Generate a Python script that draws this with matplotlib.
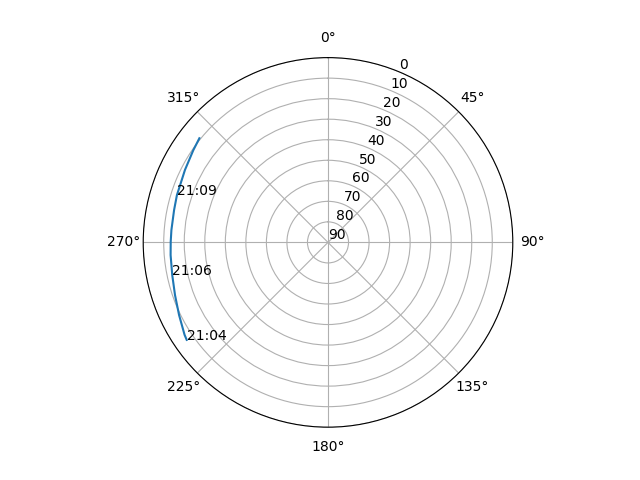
import numpy as np
import matplotlib
matplotlib.use("Agg")
import matplotlib.pyplot as plt

azimuth = [235.4, 237.2, 244.0, 251.0, 258.2, 265.4, 270.3, 274.5, 281.9, 287.4, 296.9, 304.4, 309.0]
elevation = [6.4, 6.9, 9.3, 11.2, 12.5, 13.1, 13.4, 13.5, 13.4, 12.9, 11.9, 10.5, 9.4]
time_labels = ["21:04", "21:06", "21:09"]
label_index = [0, 4, 9]
r_ticks = [0, 10, 20, 30, 40, 50, 60, 70, 80, 90]

fig = plt.figure(figsize=(6.4, 4.8), dpi=100)
ax = fig.add_subplot(111, projection="polar")
ax.set_theta_zero_location("N")
ax.set_theta_direction(-1)
theta = np.radians(azimuth)
ax.plot(theta, elevation)
for lab, i in zip(time_labels, label_index):
    ax.text(theta[i], elevation[i], lab)
ax.set_rticks(r_ticks)
ax.set_rlim(90, 0)
fig.savefig("out.png")
